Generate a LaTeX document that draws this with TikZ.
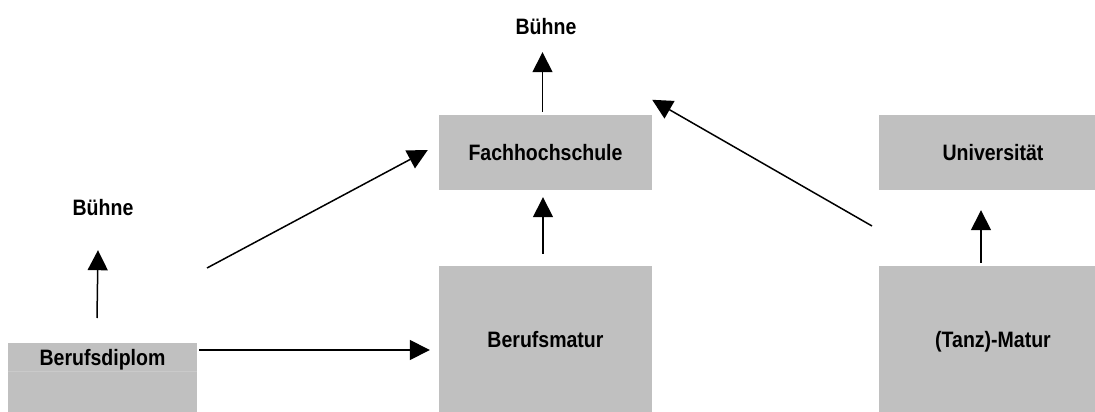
\documentclass[tikz,border=0pt]{standalone}
\usepackage{fontspec}
\setmainfont{Liberation Sans}[FakeStretch=0.875]
\usetikzlibrary{arrows.meta}
\definecolor{boxgray}{RGB}{192,192,192}
\definecolor{rowline}{RGB}{202,202,202}
\tikzset{
  txt/.style={inner sep=0pt, text height=16pt, text depth=0pt,
    font=\bfseries\fontsize{22.3}{26}\selectfont},
  box/.style={txt, fill=boxgray, draw=none},
  lbl/.style={txt},
  arr/.style={line width=1.5pt, -{Triangle[length=20pt,width=20pt]}}
}
\begin{document}
\begin{tikzpicture}[x=1pt,y=-1pt]
  \useasboundingbox (0,0) rectangle (1095,412);
  \clip (0,0) rectangle (1095,412);

  % boxes (the right column runs past the page edge)
  \node[box, minimum width=213pt, minimum height=75pt] (fh) at (545.5,152.5) {Fachhochschule};
  \node[box, minimum width=228pt, minimum height=75pt] (uni) at (993,152.5) {Universität};
  \node[box, minimum width=213pt, minimum height=146pt] (bm) at (545.5,339) {Berufsmatur};
  \node[box, minimum width=228pt, minimum height=146pt] (tm) at (993,339) {(Tanz)-Matur};
  \node[box, minimum width=189pt, minimum height=28pt] (bd) at (102.5,357) {Berufsdiplom};
  \node[box, minimum width=189pt, minimum height=41pt, anchor=north] (bdrow) at (bd.south) {};
  \draw[rowline, line width=0.6pt] (bdrow.north west) -- (bdrow.north east);

  % stage labels
  \node[lbl] (b1) at (546,27) {Bühne};
  \node[lbl] (b2) at (103,207) {Bühne};

  % free ends of connectors
  \coordinate (dl) at (207,268);
  \coordinate (dr) at (872,226);
  \coordinate (bs) at (97,318);

  % connectors
  \draw[arr] ([xshift=-3pt,yshift=3pt]fh.north) -- ([xshift=-3pt,yshift=-17pt]fh.north |- b1.south);
  \draw[arr] (bs) -- ([xshift=-5pt,yshift=-35pt]b2.south);
  \draw[arr] ([shift={(2pt,7pt)}]bd.east) -- ([shift={(-9pt,-11pt)}]bm.west);
  \draw[arr] (dl) -- ([shift={(-11pt,2.5pt)}]fh.west);
  \draw[arr] (dr) -- ([yshift=15pt]fh.north east);
  \draw[arr] ([xshift=-2.5pt,yshift=12pt]bm.north) -- ([xshift=-2.5pt,yshift=-7pt]fh.south);
  \draw[arr] ([xshift=-12pt,yshift=3pt]tm.north) -- ([xshift=-12pt,yshift=-20pt]uni.south);
\end{tikzpicture}
\end{document}
